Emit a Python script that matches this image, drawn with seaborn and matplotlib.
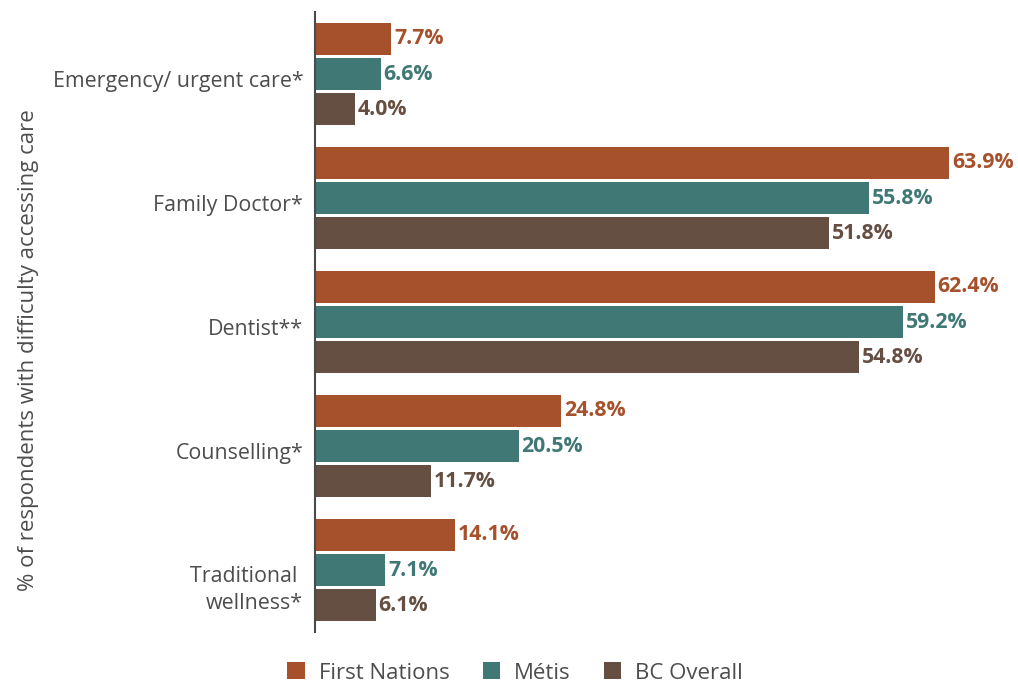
import matplotlib
matplotlib.use("Agg")
import matplotlib.pyplot as plt
import matplotlib.transforms as mtransforms
import seaborn as sns
import pandas as pd
from matplotlib.patches import Patch

categories = ["Emergency/ urgent care*", "Family Doctor*", "Dentist**", "Counselling*", "Traditional \nwellness*"]
series = ["First Nations", "Métis", "BC Overall"]
first_nations = [7.7, 63.9, 62.4, 24.8, 14.1]
metis = [6.6, 55.8, 59.2, 20.5, 7.1]
bc_overall = [4.0, 51.8, 54.8, 11.7, 6.1]
colors = ["#A6502C", "#3F7874", "#654E42"]

rows = []
for s, vals in zip(series, [first_nations, metis, bc_overall]):
    for c, v in zip(categories, vals):
        rows.append({"category": c, "group": s, "value": v})
df = pd.DataFrame(rows)

sns.set_theme(style="white")
plt.rcParams["font.family"] = ["Open Sans", "DejaVu Sans"]
text_color = "#4D4D4D"

fig = plt.figure(figsize=(10.18, 6.86), dpi=100)
ax = fig.add_axes([315/1018, 1-632/686, 695/1018, 620/686])

sns.barplot(data=df, y="category", x="value", hue="group", order=categories,
            hue_order=series, palette=colors, orient="h", width=0.847, gap=0.11,
            saturation=1, ax=ax, legend=False, linewidth=0, edgecolor="none")

for container, col in zip(ax.containers, colors):
    ax.bar_label(container, labels=[f"{v.get_width():.1f}%" for v in container],
                 padding=2, color=col, fontweight="bold", fontsize=15.3)

ax.set_xlim(0, 70)
ax.set_ylim(4.5, -0.5)
ax.set_xlabel("")
ax.set_ylabel("% of respondents with difficulty accessing care", fontsize=16,
              color=text_color)
ax.yaxis.set_label_coords((39 - 315) / 695, (632 - 350) / 620)
ax.set_xticks([])
ax.tick_params(axis="y", length=0, pad=8.5, labelsize=15.4, labelcolor=text_color)
for lbl in ax.get_yticklabels():
    nlines = lbl.get_text().count("\n") + 1
    offset = mtransforms.ScaledTranslation(0, -(13 + 26 * (nlines - 1)) / 100,
                                           fig.dpi_scale_trans)
    lbl.set_verticalalignment("baseline")
    lbl.set_linespacing(1.35)
    lbl.set_transform(lbl.get_transform() + offset)
for s in ["top", "right", "bottom"]:
    ax.spines[s].set_visible(False)
ax.spines["left"].set_color("#4A4A4A")
ax.spines["left"].set_linewidth(1.5)

handles = [Patch(facecolor=c, edgecolor="none", label=s) for s, c in zip(series, colors)]
fig.legend(handles=handles, loc="center", bbox_to_anchor=(515/1018, 1-673/686), ncol=3,
           frameon=False, fontsize=16, handlelength=0.8, handleheight=0.8,
           columnspacing=1.5, handletextpad=0.6, labelcolor=text_color)

fig.savefig("out.png", dpi=100)
